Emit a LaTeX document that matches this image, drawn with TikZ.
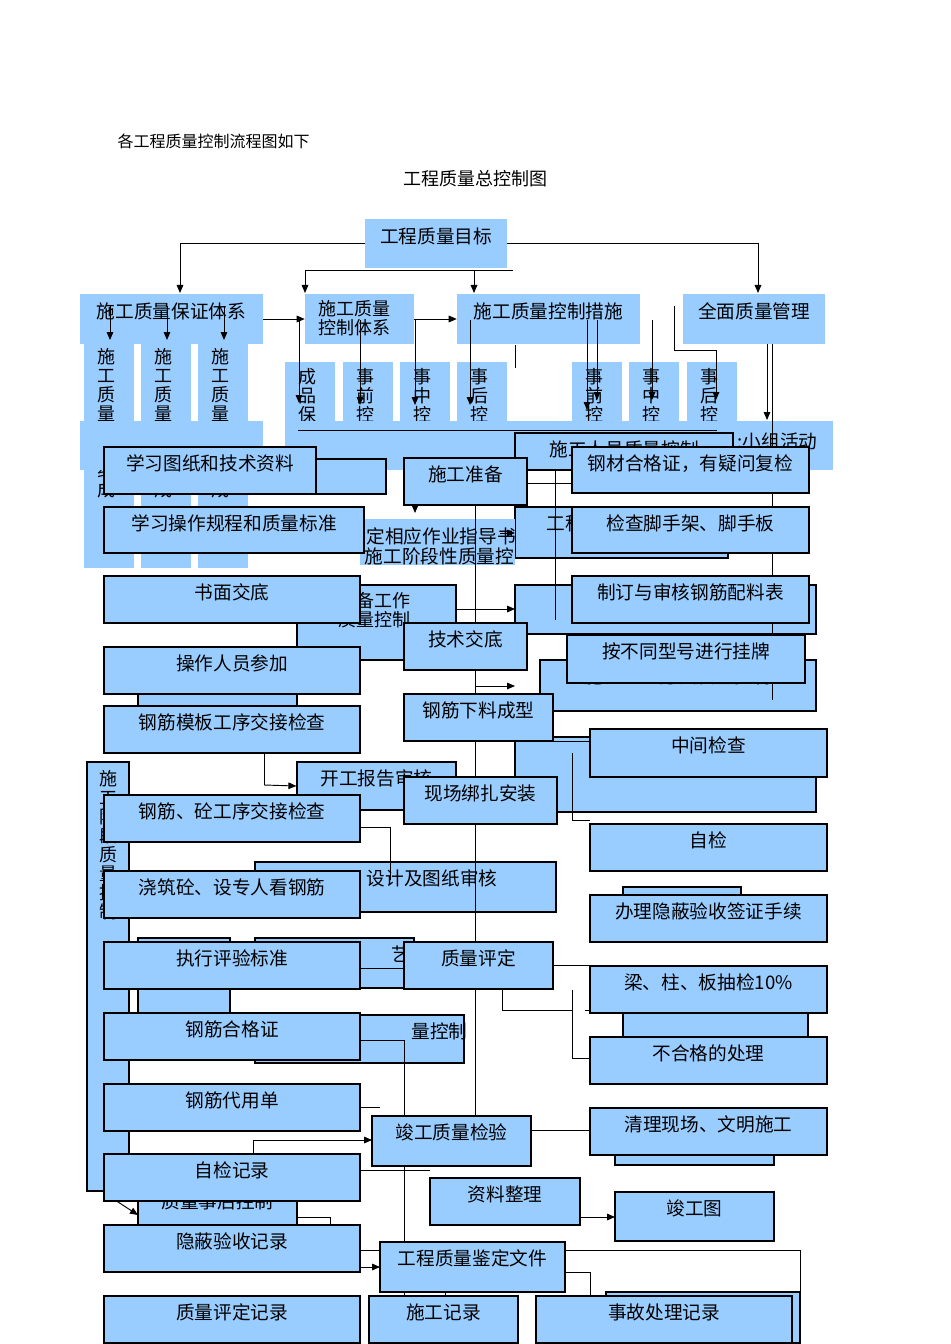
\documentclass[tikz,border=0pt]{standalone}
\usepackage{fontspec}
\newfontfamily\cjk{Noto Sans CJK SC}
\usetikzlibrary{fit,arrows.meta}
\definecolor{bl}{HTML}{99CCFF}
\tikzset{
 bk/.style={fill=bl,inner sep=0pt},
 bd/.style={fill=bl,draw=black,line width=0.9pt,inner sep=0pt},
 lab/.style={anchor=north,yshift=-3pt,font=\cjk\fontsize{14}{15}\selectfont},
 vt/.style={font=\cjk\fontsize{13.5}{14.3}\selectfont,align=center,anchor=north,inner sep=0pt},
 ln/.style={draw=black,line width=0.7pt},
 ar/.style={ln,-{Triangle[length=6pt,width=5pt]}}
}
\newcommand\B[7]{\node[#1,fit={(#3,#4)(#5,#6)},label={[lab]north:#7}] (#2) {};}
\begin{document}
\begin{tikzpicture}[x=0.75pt,y=-0.75pt]
\useasboundingbox[fill=white] (0,0) rectangle (950,1344);
\node[anchor=west,font=\cjk\fontsize{12}{13}\selectfont] (intro) at (113,141) {各工程质量控制流程图如下};
\node[font=\cjk\fontsize{13.5}{15}\selectfont] (title) at (475,179) {工程质量总控制图};
% ---------- background boxes
\B{bk}{goal}{365}{219}{507}{268}{工程质量目标}
\B{bk}{bz}{80}{294}{263}{344}{施工质量保证体系}
\node[bk,fit={(305,294)(414,344)}] (kz) {};
\node[vt,anchor=north west,align=left] (kzt) at (318,300) {施工质量\\控制体系};
\B{bk}{cs}{457}{294}{640}{344}{施工质量控制措施}
\B{bk}{qm}{683}{294}{825}{344}{全面质量管理}
\foreach \x/\n in {84/a,141/b,198/c}{
 \node[bk,fit={(\x,344)(\x+50,568)}] (col\n) {};
 \node[vt] (col\n t) at (\x+22,348) {施\\工\\质\\量\\管\\理\\组\\成};}
\node[bk,fit={(80,421)(263,470)}] (band1) {};
\foreach \x/\t/\n in {285/成\\品\\保\\护/a,343/事\\前\\控\\制/b,400/事\\中\\控\\制/c,457/事\\后\\控\\制/d,572/事\\前\\控\\制/e,629/事\\中\\控\\制/f,687/事\\后\\控\\制/g}{
 \node[bk,fit={(\x,362)(\x+50,470)}] (sub\n) {};
 \node[vt] (sub\n t) at (\x+22,368) {\t};}
\node[bk,fit={(285,421)(735,470)}] (band2) {};
\node[bk,fit={(735,421)(833,470)}] (qc) {};
\node[lab,anchor=west,yshift=0pt] (qct) at (733,437) {:小组活动};
\B{bd}{ry}{515}{433}{733}{470}{施工人员质量控制}
\node[bd,fit={(104,459)(386,494)}] (bg1) {};
\B{bd}{cl}{515}{507}{728}{558}{工程材料质量控制}
\node[bk,fit={(360,519)(515,565)}] (zd) {};
\node[lab,anchor=west,yshift=0pt] (zdt) at (343,532) {制定相应作业指导书};
\node[lab,anchor=west,yshift=0pt] (zdt2) at (360,552) {施工阶段性质量控};
\B{bd}{jx}{515}{585}{816}{634}{施工机械设备质量控制}
\node[bd,fit={(297,585)(456,660)}] (zb) {};
\node[vt,anchor=north west,align=left] (zbt) at (338,592) {准备工作\\质量控制};
\B{bd}{gy}{540}{660}{816}{711}{施工工艺方法质量控制}
\node[bd,fit={(138,690)(297,706)}] (bg2) {};
\B{bd}{hj}{515}{737}{816}{812}{施工环境质量控制}
\B{bd}{kg}{297}{762}{456}{810}{开工报告审核}
\node[bd,fit={(87,762)(129,1191)}] (jd) {};
\node[vt] (jdt) at (108,770) {施\\工\\阶\\段\\质\\量\\控\\制};
\B{bd}{sj}{255}{862}{556}{912}{\hspace*{40pt}设计及图纸审核}
\node[bd,fit={(623,887)(741,900)}] (bg3) {};
\node[bd,fit={(138,938)(230,1013)}] (bg4) {};
\B{bd}{gyk}{255}{938}{414}{988}{\hspace*{100pt}艺}
\node[bd,fit={(623,1005)(808,1037)}] (bg5) {};
\B{bd}{lk}{255}{1015}{464}{1063}{\hspace*{120pt}量控制}
\node[bd,fit={(615,1150)(774,1165)}] (bg6) {};
\B{bd}{sh}{138}{1185}{297}{1228}{质量事后控制}
\node[bd,fit={(606,1292)(800,1343)}] (bg7) {};
% ---------- connectors
\draw[ar] (goal.west) -| (180,293);
\draw[ar] (goal.east) -| (758,293);
\draw[ln] (305,270) -- (513,270);
\draw[ar] (305,270) -- (305,293);
\draw[ar] (474,270) -- (474,293);
\draw[ar] (bz.east) -- (kz.west);
\draw[ar] (kz.east) -- (cs.west);
\foreach \x in {110,167,224} \draw[ar] (\x,306) -- (\x,340);
\foreach \x/\y in {299/403,360/405,415/405,470/405,587/410,597/400,652/400} \draw[ar] (\x,320) -- (\x,\y);
\draw[ln] (515,345) -- (515,368);
\draw[ar] (674,306) -- (674,350) -- (716,350) -- (716,400);
\draw[ar] (767,344) -- (767,420);
\draw[ln] (772,344) -- (772,700);
\draw[ln] (298,430) -- (717,430);
\draw[ln] (475,505) -- (475,1160);
\draw[ln] (527,483) -- (572,483);
\draw[ar] (415,495) -- (415,513);
\draw[ar] (500,533) -- (515,533);
\draw[ar] (456,609) -- (515,609);
\draw[ar] (475,686) -- (515,686);
\draw[ln] (555,470) -- (555,620);
\draw[ln] (264,753) -- (264,785);
\draw[ar] (264,785) -- (kg.west);
\draw[ln] (360,827) -- (390,827) -- (390,880);
\draw[ln] (360,968) -- (404,968);
\draw[ln] (553,965) -- (600,965);
\draw[ar] (600,965) -- (600,1005);
\draw[ln] (502,989) -- (502,1010) -- (572,1010);
\draw[ln] (572,990) -- (572,1058) -- (590,1058);
\draw[ar] (585,1010) -- (615,1010);
\draw[ln] (572,753) -- (572,820) -- (590,820);
\draw[ln] (553,741) -- (590,741);
\draw[ln] (360,1040) -- (404,1040) -- (404,1340);
\draw[ln] (360,1107) -- (380,1107);
\draw[ln] (253,1160) -- (253,1140);
\draw[ar] (253,1140) -- (372,1140);
\draw[ln] (531,1130) -- (590,1130);
\draw[ln] (360,1170) -- (430,1170);
\draw[ar] (580,1217) -- (615,1217);
\draw[ar] (360,1267) -- (380,1267);
\draw[ln] (360,1250) -- (800,1250) -- (800,1296);
\draw[ln] (565,1272) -- (590,1272) -- (590,1296);
\draw[ln] (445,1292) -- (445,1296);
\draw[ar] (115,1200) -- (138,1215);
\draw[ln] (297,1217) -- (330,1217) -- (330,1225);
% ---------- top boxes
\B{bd}{a1}{104}{447}{316}{494}{学习图纸和技术资料}
\B{bd}{a2}{104}{507}{364}{553}{学习操作规程和质量标准}
\B{bd}{a3}{104}{576}{360}{623}{书面交底}
\B{bd}{a4}{104}{647}{360}{694}{操作人员参加}
\B{bd}{a5}{104}{706}{360}{753}{钢筋模板工序交接检查}
\B{bd}{a6}{104}{795}{360}{842}{钢筋、砼工序交接检查}
\B{bd}{a7}{104}{871}{360}{918}{浇筑砼、设专人看钢筋}
\B{bd}{a8}{104}{942}{360}{989}{执行评验标准}
\B{bd}{a9}{104}{1013}{360}{1060}{钢筋合格证}
\B{bd}{a10}{104}{1084}{360}{1131}{钢筋代用单}
\B{bd}{a11}{104}{1154}{360}{1201}{自检记录}
\B{bd}{a12}{104}{1225}{360}{1272}{隐蔽验收记录}
\B{bd}{a13}{104}{1296}{360}{1343}{质量评定记录}
\B{bd}{m1}{404}{458}{527}{505}{施工准备}
\B{bd}{m2}{404}{623}{527}{670}{技术交底}
\B{bd}{m3}{404}{694}{553}{741}{钢筋下料成型}
\B{bd}{m4}{404}{777}{557}{824}{现场绑扎安装}
\B{bd}{m5}{404}{942}{553}{989}{质量评定}
\B{bd}{ks}{372}{1116}{531}{1166}{竣工质量检验}
\B{bd}{zl}{430}{1178}{580}{1225}{资料整理}
\B{bd}{jdw}{380}{1242}{565}{1292}{工程质量鉴定文件}
\B{bd}{sgj}{369}{1296}{518}{1343}{施工记录}
\B{bd}{r1}{572}{447}{809}{493}{钢材合格证，有疑问复检}
\B{bd}{r2}{572}{507}{809}{553}{检查脚手架、脚手板}
\B{bd}{r3}{572}{576}{809}{623}{制订与审核钢筋配料表}
\B{bd}{r4}{567}{635}{805}{683}{按不同型号进行挂牌}
\B{bd}{r5}{590}{729}{827}{777}{中间检查}
\B{bd}{r6}{590}{824}{827}{871}{自检}
\B{bd}{r7}{590}{895}{827}{942}{办理隐蔽验收签证手续}
\B{bd}{r8}{590}{966}{827}{1013}{梁、柱、板抽检10\%}
\B{bd}{r9}{590}{1037}{827}{1084}{不合格的处理}
\B{bd}{r10}{590}{1108}{827}{1155}{清理现场、文明施工}
\B{bd}{sj2}{615}{1192}{774}{1241}{竣工图}
\B{bd}{sg}{536}{1296}{792}{1343}{事故处理记录}
\end{tikzpicture}
\end{document}
